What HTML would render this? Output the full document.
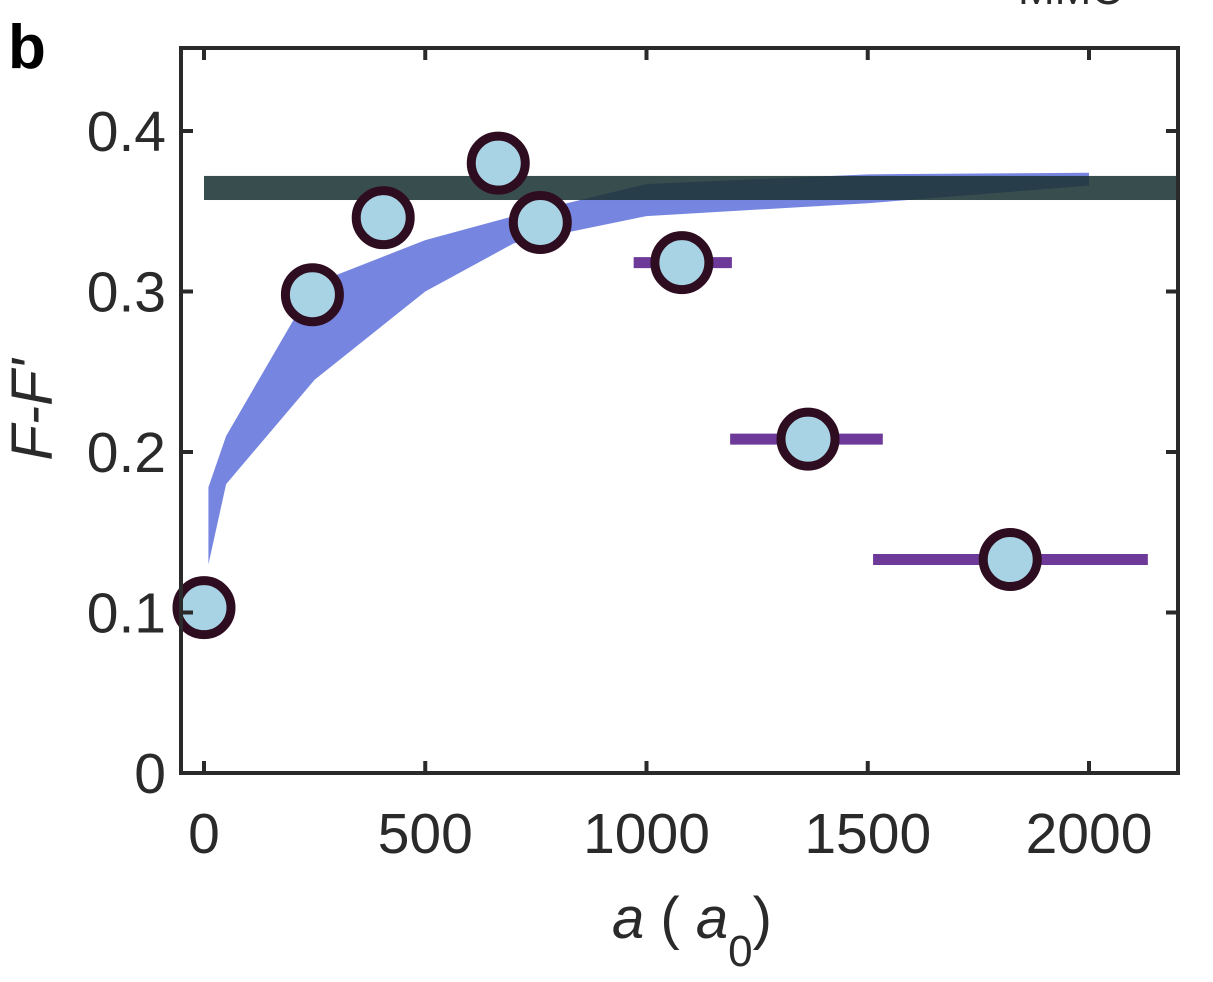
<!DOCTYPE html>
<html><head><meta charset="utf-8"><style>body{margin:0;background:#fff}svg{display:block}text{font-family:"Liberation Sans",sans-serif;fill:#2a2a2a}</style></head>
<body>
<svg id="chart" width="1213" height="982">
<text x="1018" y="4" font-size="44">MMC</text>
<text x="8" y="68" font-size="62" font-weight="bold" fill="#000" style="fill:#000">b</text>
<g id="plot"></g>
</svg>
<script>
const xTicks=[0,500,1000,1500,2000];
const yTicks=[0,0.1,0.2,0.3,0.4];
const yTickLabels=["0","0.1","0.2","0.3","0.4"];
const bandX=[10,50,250,500,700,1000,1500,2000];
const bandUpper=[0.178,0.21,0.305,0.332,0.347,0.367,0.373,0.374];
const bandLower=[0.13,0.18,0.245,0.3,0.33,0.347,0.355,0.366];
const refLow=0.357, refHigh=0.372;
const ptX=[0,245,405,665,760,1080,1365,1822];
const ptY=[0.103,0.298,0.346,0.38,0.343,0.318,0.208,0.133];
const errLo=[null,null,null,null,null,971,1189,1512];
const errHi=[null,null,null,null,null,1193,1534,2133];
const L=181,R=1178,T=48,B=773;
const X=v=>204+v*0.4425, Y=v=>773-v*1605;
const NS="http://www.w3.org/2000/svg";
const g=document.getElementById('plot');
function mk(t,a){const e=document.createElementNS(NS,t);for(const k in a)e.setAttribute(k,a[k]);g.appendChild(e);return e;}
let d="M"+bandX.map((x,i)=>X(x)+","+Y(bandUpper[i])).join("L");
for(let i=bandX.length-1;i>=0;i--)d+="L"+X(bandX[i])+","+Y(bandLower[i]);
let e=mk('path',{d:d+"Z",fill:'#7686e0'});


e=mk('rect',{x:X(0),y:Y(refHigh),width:R-X(0),height:Y(refLow)-Y(refHigh),fill:'#1c3434','fill-opacity':0.88});


ptX.forEach((x,i)=>{if(errLo[i]!==null){e=mk('line',{x1:X(errLo[i]),x2:X(errHi[i]),y1:Y(ptY[i]),y2:Y(ptY[i]),stroke:'#6e3a9a','stroke-width':11});

}});
ptX.forEach((x,i)=>{e=mk('circle',{cx:X(x),cy:Y(ptY[i]),r:27,fill:'#a8d3e4',stroke:'#2e0d20','stroke-width':9});

});
e=mk('rect',{x:L,y:T,width:R-L,height:B-T,fill:'none',stroke:'#2a2a2a','stroke-width':4});


xTicks.forEach(v=>{mk('line',{x1:X(v),x2:X(v),y1:B,y2:B-12,stroke:'#2a2a2a','stroke-width':4});mk('line',{x1:X(v),x2:X(v),y1:T,y2:T+12,stroke:'#2a2a2a','stroke-width':4});
e=mk('text',{x:X(v),y:853,'font-size':57,'text-anchor':'middle'});e.textContent=v;

});
yTicks.forEach((v,i)=>{mk('line',{x1:L,x2:L+12,y1:Y(v),y2:Y(v),stroke:'#2a2a2a','stroke-width':4});mk('line',{x1:R,x2:R-12,y1:Y(v),y2:Y(v),stroke:'#2a2a2a','stroke-width':4});
e=mk('text',{x:166,y:Y(v)+20,'font-size':57,'text-anchor':'end'});e.textContent=yTickLabels[i];

});
e=mk('text',{x:692,y:938,'font-size':58,'text-anchor':'middle'});
e.innerHTML='<tspan font-style="italic">a</tspan> ( <tspan font-style="italic">a</tspan><tspan dy="28" font-size="44">0</tspan><tspan dy="-28">)</tspan>';


e=mk('text',{x:0,y:0,'font-size':58,'text-anchor':'middle','font-style':'italic',transform:'translate(52,410) rotate(-90)'});
e.textContent="F-F'";


</script>
</body></html>
